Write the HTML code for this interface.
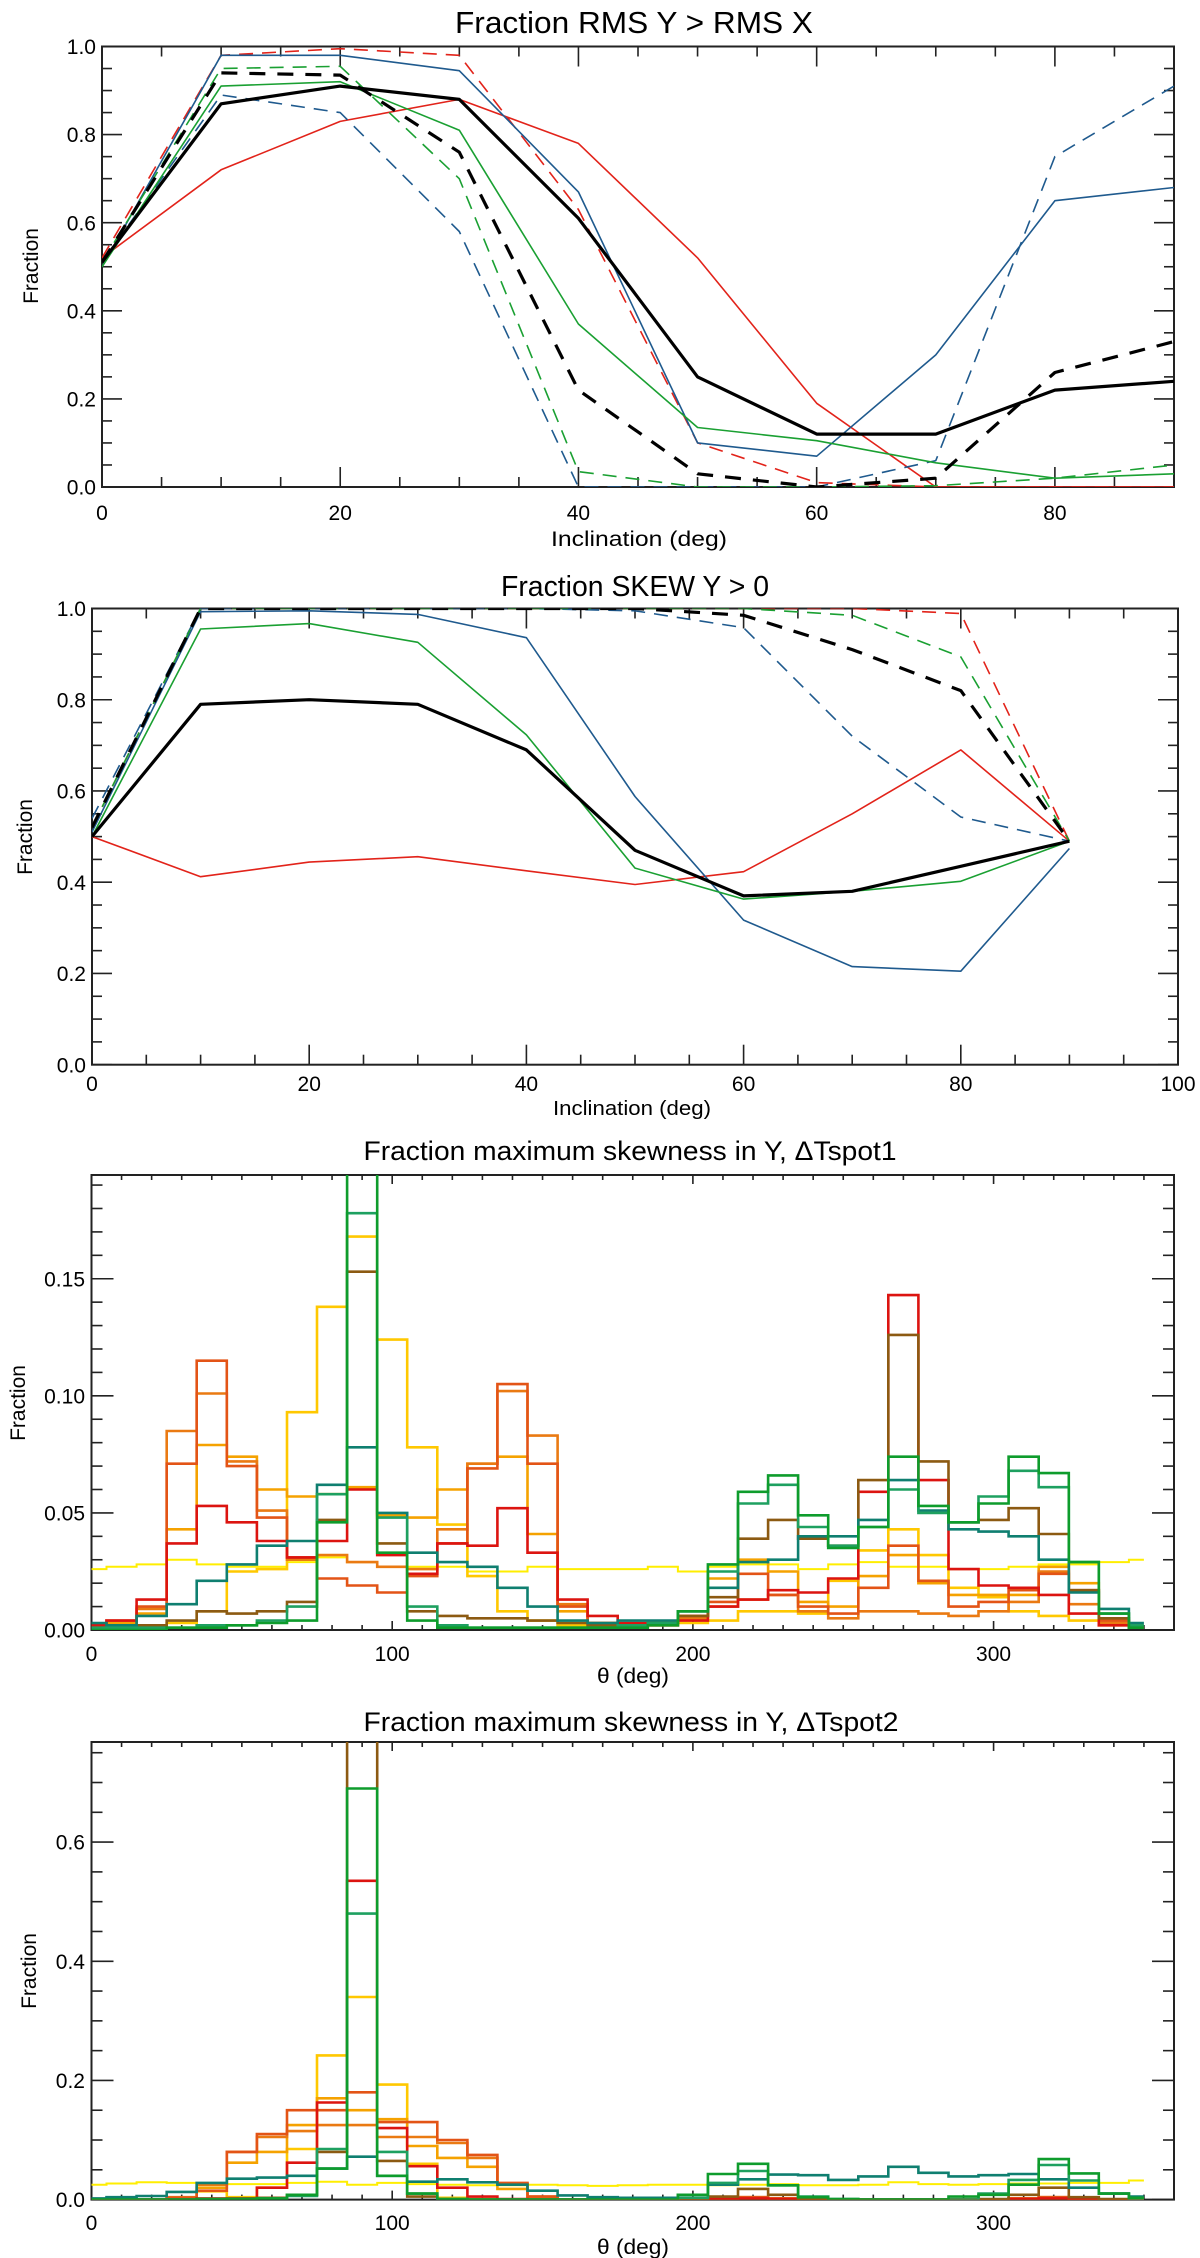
<!DOCTYPE html>
<html><head><meta charset="utf-8"><style>
html,body{margin:0;padding:0;background:#fff}
svg{display:block}
text{font-family:"Liberation Sans",Arial,sans-serif;fill:#000}
</style></head><body>
<svg id="fig" width="1200" height="2258" viewBox="0 0 1200 2258" xmlns="http://www.w3.org/2000/svg"></svg>
<script>
// ---------- Panel 1 data: Fraction RMS Y > RMS X ----------
const p1Incl = [0,10,20,30,40,50,60,70,80,90];
const p1BlackSolid = [0.51,0.87,0.91,0.88,0.61,0.25,0.12,0.12,0.22,0.24];
const p1BlackDash  = [0.51,0.94,0.935,0.76,0.22,0.03,0.0,0.02,0.26,0.33];
const p1BlueSolid  = [0.50,0.98,0.98,0.945,0.67,0.10,0.07,0.30,0.65,0.68];
const p1BlueDash   = [0.51,0.89,0.85,0.58,0.0,0.0,0.0,0.06,0.75,0.91];
const p1RedSolid   = [0.52,0.72,0.83,0.88,0.78,0.52,0.19,0.0,0.0,0.0];
const p1RedDash    = [0.52,0.98,0.995,0.98,0.63,0.10,0.01,0.0,0.0,0.0];
const p1GreenSolid = [0.50,0.91,0.92,0.81,0.37,0.135,0.105,0.055,0.02,0.03];
const p1GreenDash  = [0.51,0.95,0.955,0.70,0.035,0.0,0.0,0.003,0.02,0.05];
const p1XTicks = [0,20,40,60,80];
const p1YTicks = [0.0,0.2,0.4,0.6,0.8,1.0];

// ---------- Panel 2 data: Fraction SKEW Y > 0 ----------
const p2Incl = [0,10,20,30,40,50,60,70,80,90];
const p2BlackSolid = [0.50,0.79,0.80,0.79,0.69,0.47,0.37,0.38,0.435,0.49];
const p2BlackDash  = [0.52,1.0,1.0,1.0,1.0,1.0,0.985,0.91,0.82,0.49];
const p2BlueSolid  = [0.51,0.993,0.995,0.987,0.936,0.588,0.317,0.215,0.205,0.474];
const p2BlueDash   = [0.54,1.0,1.0,1.0,1.0,0.995,0.958,0.72,0.543,0.49];
const p2RedSolid   = [0.50,0.412,0.444,0.456,0.425,0.395,0.423,0.55,0.69,0.49];
const p2RedDash    = [0.52,1.0,1.0,1.0,1.0,1.0,1.0,1.0,0.989,0.49];
const p2GreenSolid = [0.50,0.955,0.967,0.926,0.723,0.431,0.363,0.38,0.402,0.49];
const p2GreenDash  = [0.52,1.0,1.0,1.0,1.0,1.0,1.0,0.985,0.894,0.49];
const p2XTicks = [0,20,40,60,80,100];
const p2YTicks = [0.0,0.2,0.4,0.6,0.8,1.0];

// ---------- Histogram bins (theta, deg) ----------
const thetaBins = [0,10,20,30,40,50,60,70,80,90,100,110,120,130,140,150,160,170,180,190,200,210,220,230,240,250,260,270,280,290,300,310,320,330,340,350];

// ---------- Panel 3 data: dTspot1 ----------
const h1Yellow = [0.026,0.027,0.028,0.030,0.028,0.027,0.027,0.029,0.031,0.029,0.027,0.027,0.027,0.025,0.025,0.027,0.026,0.026,0.026,0.027,0.025,0.027,0.028,0.028,0.026,0.028,0.029,0.027,0.027,0.026,0.026,0.027,0.028,0.028,0.029,0.030];
const h1Gold   = [0.0,0.0,0.001,0.003,0.008,0.025,0.026,0.093,0.138,0.168,0.124,0.078,0.045,0.023,0.008,0.004,0.002,0.001,0.001,0.002,0.003,0.004,0.008,0.008,0.007,0.021,0.034,0.043,0.032,0.018,0.014,0.008,0.006,0.004,0.002,0.001];
const h1LtOrange = [0.001,0.003,0.007,0.043,0.079,0.074,0.060,0.057,0.058,0.061,0.049,0.048,0.060,0.071,0.074,0.041,0.008,0.003,0.002,0.003,0.006,0.022,0.030,0.025,0.012,0.010,0.023,0.032,0.020,0.015,0.015,0.015,0.027,0.020,0.004,0.001];
const h1DkOrange = [0.001,0.002,0.009,0.085,0.101,0.072,0.051,0.030,0.032,0.029,0.027,0.026,0.043,0.071,0.102,0.083,0.011,0.003,0.002,0.003,0.005,0.010,0.013,0.015,0.008,0.005,0.008,0.008,0.007,0.006,0.008,0.012,0.025,0.011,0.003,0.001];
const h1OrRed  = [0.002,0.004,0.010,0.071,0.115,0.070,0.048,0.031,0.022,0.019,0.016,0.023,0.037,0.069,0.105,0.071,0.010,0.003,0.002,0.003,0.006,0.012,0.024,0.015,0.010,0.007,0.018,0.036,0.021,0.010,0.012,0.017,0.024,0.017,0.004,0.001];
const h1Red    = [0.002,0.004,0.013,0.037,0.053,0.046,0.038,0.031,0.038,0.060,0.032,0.024,0.037,0.036,0.052,0.033,0.013,0.006,0.003,0.002,0.004,0.010,0.013,0.017,0.016,0.022,0.059,0.143,0.064,0.026,0.019,0.018,0.015,0.007,0.002,0.001];
const h1Brown  = [0.001,0.002,0.002,0.004,0.008,0.007,0.008,0.012,0.047,0.153,0.037,0.008,0.006,0.005,0.005,0.004,0.003,0.002,0.002,0.003,0.006,0.014,0.039,0.047,0.039,0.036,0.064,0.126,0.072,0.046,0.047,0.052,0.041,0.017,0.005,0.001];
const h1Teal   = [0.003,0.002,0.006,0.011,0.021,0.028,0.036,0.038,0.062,0.078,0.050,0.033,0.029,0.027,0.018,0.010,0.004,0.003,0.004,0.004,0.008,0.018,0.029,0.030,0.040,0.040,0.047,0.064,0.051,0.043,0.042,0.040,0.030,0.016,0.009,0.003];
const h1GrTeal = [0.001,0.001,0.001,0.001,0.002,0.002,0.004,0.010,0.058,0.178,0.048,0.010,0.002,0.001,0.001,0.001,0.001,0.001,0.002,0.003,0.008,0.025,0.054,0.062,0.044,0.036,0.044,0.060,0.050,0.046,0.057,0.068,0.061,0.029,0.007,0.002];
const h1Green  = [0.0,0.0,0.0,0.001,0.001,0.002,0.003,0.004,0.046,0.25,0.033,0.004,0.001,0.001,0.001,0.001,0.001,0.001,0.001,0.002,0.008,0.028,0.059,0.066,0.049,0.035,0.044,0.074,0.053,0.046,0.054,0.074,0.067,0.029,0.007,0.001];
const h1XTicks = [0,100,200,300];
const h1YTicks = [0.00,0.05,0.10,0.15];

// ---------- Panel 4 data: dTspot2 ----------
const h2Yellow = [0.025,0.027,0.029,0.028,0.027,0.026,0.026,0.028,0.030,0.025,0.028,0.026,0.025,0.024,0.024,0.025,0.024,0.023,0.024,0.025,0.025,0.024,0.025,0.026,0.024,0.024,0.025,0.029,0.026,0.025,0.026,0.027,0.027,0.028,0.028,0.032];
const h2Gold   = [0.0,0.0,0.0,0.002,0.014,0.004,0.020,0.085,0.242,0.34,0.193,0.060,0.003,0.001,0.0,0.0,0.0,0.0,0.0,0.0,0.0,0.001,0.001,0.001,0.0,0.0,0.0,0.0,0.0,0.0,0.0,0.001,0.001,0.0,0.0,0.0];
const h2LtOrange = [0.0,0.0,0.0,0.003,0.020,0.062,0.080,0.125,0.170,0.150,0.135,0.090,0.070,0.055,0.018,0.002,0.0,0.0,0.0,0.0,0.0,0.002,0.003,0.002,0.0,0.0,0.0,0.0,0.0,0.0,0.0,0.002,0.003,0.001,0.0,0.0];
const h2DkOrange = [0.0,0.0,0.0,0.004,0.025,0.080,0.105,0.115,0.125,0.125,0.105,0.105,0.095,0.070,0.026,0.005,0.0,0.0,0.0,0.0,0.0,0.002,0.004,0.002,0.0,0.0,0.0,0.0,0.0,0.0,0.0,0.002,0.004,0.001,0.0,0.0];
const h2OrRed  = [0.0,0.0,0.0,0.003,0.015,0.080,0.110,0.150,0.150,0.180,0.130,0.130,0.100,0.075,0.028,0.005,0.0,0.0,0.0,0.0,0.0,0.002,0.004,0.002,0.0,0.0,0.0,0.0,0.0,0.0,0.0,0.002,0.004,0.001,0.0,0.0];
const h2Red    = [0.0,0.0,0.0,0.0,0.002,0.002,0.020,0.062,0.163,0.535,0.120,0.056,0.020,0.005,0.001,0.0,0.0,0.0,0.0,0.0,0.0,0.001,0.002,0.001,0.0,0.0,0.0,0.0,0.0,0.0,0.0,0.001,0.002,0.001,0.0,0.0];
const h2Brown  = [0.0,0.0,0.0,0.0,0.001,0.002,0.003,0.008,0.080,0.80,0.065,0.005,0.001,0.0,0.0,0.0,0.0,0.0,0.0,0.0,0.001,0.005,0.018,0.008,0.001,0.0,0.0,0.0,0.0,0.0,0.001,0.008,0.020,0.004,0.001,0.0];
const h2Teal   = [0.002,0.004,0.006,0.013,0.028,0.035,0.037,0.040,0.052,0.072,0.040,0.030,0.034,0.029,0.025,0.015,0.007,0.004,0.003,0.003,0.008,0.025,0.034,0.042,0.041,0.033,0.039,0.055,0.045,0.039,0.041,0.043,0.034,0.020,0.010,0.005];
const h2GrTeal = [0.0,0.0,0.0,0.0,0.001,0.001,0.002,0.006,0.085,0.48,0.080,0.010,0.001,0.0,0.0,0.0,0.0,0.0,0.0,0.0,0.003,0.028,0.048,0.024,0.005,0.001,0.0,0.0,0.0,0.0,0.010,0.033,0.058,0.032,0.010,0.002];
const h2Green  = [0.0,0.0,0.0,0.0,0.001,0.001,0.002,0.008,0.052,0.69,0.040,0.010,0.001,0.0,0.0,0.0,0.0,0.0,0.0,0.0,0.008,0.043,0.060,0.024,0.004,0.001,0.0,0.0,0.0,0.005,0.008,0.025,0.068,0.044,0.010,0.003];
const h2XTicks = [0,100,200,300];
const h2YTicks = [0.0,0.2,0.4,0.6];

const NS = 'http://www.w3.org/2000/svg';
const fig = document.getElementById('fig');
function mk(tag, attrs, parent){
  const e = document.createElementNS(NS, tag);
  for (const k in attrs) e.setAttribute(k, attrs[k]);
  (parent||fig).appendChild(e);
  return e;
}
function txt(parent, x, y, s, size, anchor, extra){
  const t = mk('text', Object.assign({x:x, y:y, 'font-size':size, 'text-anchor':anchor||'middle'}, extra||{}), parent);
  t.textContent = s;
  return t;
}

let clipId = 0;
function axesFrame(g, box, xmin, xmax, ymin, ymax, xMinor, xTicks, yMinor, yTicks, yFmt, opt){
  const sx = v => box.l + (v - xmin) / (xmax - xmin) * (box.r - box.l);
  const sy = v => box.b - (v - ymin) / (ymax - ymin) * (box.b - box.t);
  mk('rect', {x:box.l, y:box.t, width:box.r-box.l, height:box.b-box.t, fill:'none', stroke:'#222', 'stroke-width':2}, g);
  for (let v = xmin; v <= xmax + 1e-9; v += xMinor) {
    const major = xTicks.some(t => Math.abs(t - v) < 1e-9);
    const L = major ? opt.xMaj : opt.xMin;
    const x = sx(v);
    const t1 = mk('line', {x1:x, y1:box.b, x2:x, y2:box.b-L, stroke:'#222', 'stroke-width':1.6}, g);
    
    
    mk('line', {x1:x, y1:box.t, x2:x, y2:box.t+L, stroke:'#222', 'stroke-width':1.6}, g);
  }
  xTicks.forEach(v => {
    const t = txt(g, sx(v), opt.xLabY, String(v), opt.fs, 'middle');
    
    
  });
  const n = Math.round((ymax - ymin) / yMinor);
  for (let i = 0; i <= n; i++) {
    const v = ymin + i * yMinor;
    if (v > ymax + 1e-9) break;
    const major = yTicks.some(t => Math.abs(t - v) < 1e-9);
    const L = major ? opt.yMaj : opt.yMin;
    const y = sy(v);
    const t1 = mk('line', {x1:box.l, y1:y, x2:box.l+L, y2:y, stroke:'#222', 'stroke-width':1.6}, g);
    
    
    mk('line', {x1:box.r, y1:y, x2:box.r-L, y2:y, stroke:'#222', 'stroke-width':1.6}, g);
  }
  yTicks.forEach(v => {
    const t = txt(g, opt.yLabX, sy(v) + opt.fs*0.36, yFmt(v), opt.fs, 'end');
    
    
  });
  const id = 'clip' + (clipId++);
  const cp = mk('clipPath', {id:id}, g);
  mk('rect', {x:box.l, y:box.t, width:box.r-box.l, height:box.b-box.t}, cp);
  return {sx, sy, clip:'url(#'+id+')'};
}

function titles(g, o){
  const t = txt(g, o.tx, o.ty, o.title, o.tfs, 'middle', {textLength:o.tlen, lengthAdjust:'spacingAndGlyphs'});
  
  
  const xt = txt(g, o.xtx, o.xty, o.xtitle, o.xfs, 'middle', {textLength:o.xtlen, lengthAdjust:'spacingAndGlyphs'});
  
  
  const yt = txt(g, 0, 0, 'Fraction', o.yfs, 'middle', {transform:'translate('+o.ytx+','+o.yty+') rotate(-90)'});
  
  
}

function linePanel(name, box, xs, seriesList, xmax, xTicks, yTicks, o){
  const g = mk('g', {});
  
  
  const ax = axesFrame(g, box, 0, xmax, 0, 1, 5, xTicks, 0.05, yTicks, v => v.toFixed(1),
    {xMaj:20, xMin:10, yMaj:20, yMin:10, xLabY:o.xLabY, yLabX:o.yLabX, fs:21});
  const sg = mk('g', {'clip-path':ax.clip}, g);
  seriesList.forEach(s => {
    const d = s.vals.map((v,i) => (i ? 'L' : 'M') + ax.sx(xs[i]).toFixed(1) + ' ' + ax.sy(v).toFixed(1)).join(' ');
    const p = mk('path', {d:d, fill:'none', stroke:s.color, 'stroke-width':s.w, 'stroke-dasharray':s.dash||'none', 'stroke-linejoin':'round'}, sg);
    
    
  });
  titles(g, o);
}

function histPanel(name, box, ymax, seriesList, yTicks, yMinor, yFmt, o){
  const g = mk('g', {});
  
  
  const ax = axesFrame(g, box, 0, 360, 0, ymax, 10, h1XTicks, yMinor, yTicks, yFmt,
    {xMaj:9, xMin:5, yMaj:22, yMin:11, xLabY:o.xLabY, yLabX:o.yLabX, fs:21});
  const sg = mk('g', {'clip-path':ax.clip}, g);
  seriesList.forEach(s => {
    let d = '';
    s.vals.forEach((v,i) => {
      const c = thetaBins[i];
      const x0 = Math.max(0, c - 5), x1 = Math.min(350, c + 5);
      const y = ax.sy(v).toFixed(1);
      if (i === 0) d += 'M' + ax.sx(x0).toFixed(1) + ' ' + y;
      else d += ' V' + y;
      d += ' H' + ax.sx(x1).toFixed(1);
    });
    const p = mk('path', {d:d, fill:'none', stroke:s.color, 'stroke-width':s.w, 'stroke-linejoin':'miter'}, sg);
    
    
  });
  titles(g, o);
}

const BLUE = '#1f5a8e', RED = '#e2231a', GREEN = '#1aa032';
linePanel('rms-panel', {l:102, r:1174, t:46.5, b:487}, p1Incl, [
  {name:'red-solid-line', vals:p1RedSolid, color:RED, w:1.6},
  {name:'red-dashed-line', vals:p1RedDash, color:RED, w:1.6, dash:'14 9'},
  {name:'blue-solid-line', vals:p1BlueSolid, color:BLUE, w:1.6},
  {name:'blue-dashed-line', vals:p1BlueDash, color:BLUE, w:1.6, dash:'14 9'},
  {name:'green-solid-line', vals:p1GreenSolid, color:GREEN, w:1.6},
  {name:'green-dashed-line', vals:p1GreenDash, color:GREEN, w:1.6, dash:'14 9'},
  {name:'black-solid-line', vals:p1BlackSolid, color:'#000', w:3.2},
  {name:'black-dashed-line', vals:p1BlackDash, color:'#000', w:3.2, dash:'16 12'}
], 90, p1XTicks, p1YTicks,
 {xLabY:520, yLabX:96, title:'Fraction RMS Y > RMS X', tx:634, ty:33, tfs:31, tlen:358,
  xtitle:'Inclination (deg)', xtx:639, xty:546, xfs:21, xtlen:176, ytx:38, yty:266, yfs:21});

linePanel('skew-panel', {l:92, r:1178, t:608.5, b:1064.7}, p2Incl, [
  {name:'red-solid-line', vals:p2RedSolid, color:RED, w:1.6},
  {name:'red-dashed-line', vals:p2RedDash, color:RED, w:1.6, dash:'14 9'},
  {name:'blue-solid-line', vals:p2BlueSolid, color:BLUE, w:1.6},
  {name:'blue-dashed-line', vals:p2BlueDash, color:BLUE, w:1.6, dash:'14 9'},
  {name:'green-solid-line', vals:p2GreenSolid, color:GREEN, w:1.6},
  {name:'green-dashed-line', vals:p2GreenDash, color:GREEN, w:1.6, dash:'14 9'},
  {name:'black-solid-line', vals:p2BlackSolid, color:'#000', w:3.2},
  {name:'black-dashed-line', vals:p2BlackDash, color:'#000', w:3.2, dash:'16 12'}
], 100, p2XTicks, p2YTicks,
 {xLabY:1091, yLabX:86, title:'Fraction SKEW Y > 0', tx:635, ty:596, tfs:29, tlen:268,
  xtitle:'Inclination (deg)', xtx:632, xty:1115, xfs:20, xtlen:158, ytx:32, yty:837, yfs:21});

const histColors = {yellow:'#ffee00', gold:'#ffc800', lt:'#f5a200', dk:'#ea7a12', or:'#e35416', red:'#dc1410', brown:'#8c5a12', teal:'#0f7f70', grteal:'#1ea060', green:'#0e9c2c'};
function histSeries(arr){
  return [
    {name:'yellow-histogram', vals:arr[0], color:histColors.yellow, w:2},
    {name:'gold-histogram', vals:arr[1], color:histColors.gold, w:2.6},
    {name:'light-orange-histogram', vals:arr[2], color:histColors.lt, w:2.6},
    {name:'dark-orange-histogram', vals:arr[3], color:histColors.dk, w:2.6},
    {name:'orange-red-histogram', vals:arr[4], color:histColors.or, w:2.6},
    {name:'red-histogram', vals:arr[5], color:histColors.red, w:2.6},
    {name:'brown-histogram', vals:arr[6], color:histColors.brown, w:2.6},
    {name:'teal-histogram', vals:arr[7], color:histColors.teal, w:2.6},
    {name:'green-teal-histogram', vals:arr[8], color:histColors.grteal, w:2.6},
    {name:'green-histogram', vals:arr[9], color:histColors.green, w:2.6}
  ];
}
histPanel('dtspot1-panel', {l:91.5, r:1174, t:1175, b:1630}, 0.1943,
  histSeries([h1Yellow,h1Gold,h1LtOrange,h1DkOrange,h1OrRed,h1Red,h1Brown,h1Teal,h1GrTeal,h1Green]),
  h1YTicks, 0.01, v => v.toFixed(2),
  {xLabY:1661, yLabX:85, title:'Fraction maximum skewness in Y, \u0394Tspot1', tx:630, ty:1160, tfs:27, tlen:533,
   xtitle:'\u03B8 (deg)', xtx:633, xty:1683, xfs:21, xtlen:72, ytx:25, yty:1403, yfs:21});
histPanel('dtspot2-panel', {l:91.5, r:1174, t:1742, b:2199.6}, 0.768,
  histSeries([h2Yellow,h2Gold,h2LtOrange,h2DkOrange,h2OrRed,h2Red,h2Brown,h2Teal,h2GrTeal,h2Green]),
  h2YTicks, 0.05, v => v.toFixed(1),
  {xLabY:2230, yLabX:85, title:'Fraction maximum skewness in Y, \u0394Tspot2', tx:631, ty:1731, tfs:27, tlen:535,
   xtitle:'\u03B8 (deg)', xtx:633, xty:2254, xfs:21, xtlen:72, ytx:36, yty:1971, yfs:21});
</script>
</body></html>
